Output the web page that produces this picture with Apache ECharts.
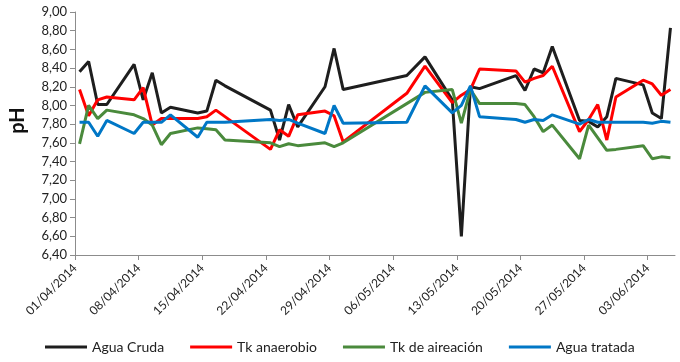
<!DOCTYPE html>
<html>
<head>
<meta charset="utf-8">
<script src="https://cdn.jsdelivr.net/npm/echarts@6/dist/echarts.min.js"></script>
<style>
    html, body { margin: 0; padding: 0; background: #fff; }
    #chart { width: 680px; height: 362px; }
</style>
</head>
<body>
<div id="chart"></div>
<script>
    // fechas de muestreo (dd/mm/aaaa)
    var fechas = ['01/04/2014','02/04/2014','03/04/2014','04/04/2014','07/04/2014','08/04/2014','09/04/2014','10/04/2014','11/04/2014',
        '14/04/2014','15/04/2014','16/04/2014','17/04/2014','22/04/2014','23/04/2014','24/04/2014','25/04/2014',
        '28/04/2014','29/04/2014','30/04/2014','07/05/2014','09/05/2014','12/05/2014','13/05/2014','14/05/2014','15/05/2014',
        '19/05/2014','20/05/2014','21/05/2014','22/05/2014','23/05/2014','26/05/2014','27/05/2014','28/05/2014','29/05/2014','30/05/2014',
        '02/06/2014','03/06/2014','04/06/2014','05/06/2014'];

    var aguaCruda = [8.36,8.47,8.01,8.01,8.44,8.06,8.35,7.92,7.98,
        7.92,7.94,8.27,8.21,7.95,7.63,8.01,7.77,
        8.20,8.61,8.17,8.32,8.52,8.06,6.60,8.20,8.18,
        8.32,8.16,8.39,8.35,8.63,7.84,7.83,7.77,7.88,8.29,
        8.22,7.92,7.86,8.83];
    var tkAnaerobio = [8.17,7.89,8.06,8.09,8.06,8.19,7.79,7.86,7.86,
        7.86,7.88,7.95,null,7.53,7.74,7.67,7.90,
        7.94,7.89,7.61,8.13,8.42,8.03,8.11,8.17,8.39,
        8.37,8.25,8.29,8.32,8.42,7.72,7.85,8.01,7.63,8.09,
        8.27,8.23,8.11,8.17];
    var tkAireacion = [7.59,8.00,7.86,7.95,7.90,7.86,7.79,7.58,7.70,
        7.76,7.75,7.74,7.63,7.60,7.56,7.59,7.57,
        7.60,7.56,7.60,null,8.14,8.17,7.81,8.17,8.02,
        8.02,8.01,7.88,7.72,7.79,7.43,7.79,null,7.52,7.53,
        7.57,7.43,7.45,7.44];
    var aguaTratada = [7.82,7.82,7.67,7.84,7.70,7.82,7.82,7.82,7.90,
        7.66,7.82,7.82,7.82,7.85,7.84,7.85,7.81,
        7.70,8.00,7.81,7.82,8.21,7.92,8.00,8.21,7.88,
        7.85,7.82,7.85,7.84,7.90,7.80,7.85,7.82,7.82,7.82,
        7.82,7.81,7.83,7.82];

    var nombres = ['Agua Cruda','Tk anaerobio','Tk de aireación','Agua tratada'];
    var colores = ['#1e1e1e','#ff0000','#4a8a3c','#0077c6'];

    var inicio = Date.UTC(2014, 3, 1);
    var DIA = 86400000;

    function aDia(f) {
        var p = f.split('/');
        return (Date.UTC(+p[2], +p[1] - 1, +p[0]) - inicio) / DIA;
    }
    function aFecha(d) {
        var t = new Date(inicio + d * DIA);
        var dd = ('0' + t.getUTCDate()).slice(-2);
        var mm = ('0' + (t.getUTCMonth() + 1)).slice(-2);
        return dd + '/' + mm + '/' + t.getUTCFullYear();
    }

    // eje de fechas: marcas cada 7 dias, puntos en mitad del dia (como Excel)
    var marcas = [];
    for (var i = 0; i <= 63; i += 7) marcas.push(i);

    function serie(nombre, valores, color) {
        return {
            name: nombre,
            type: 'line',
            symbol: 'none',
            connectNulls: true,
            lineStyle: { width: 3, color: color },
            itemStyle: { color: color },
            data: fechas.map(function (f, k) {
                return [aDia(f) + 0.5, valores[k]];
            })
        };
    }

    var chart = echarts.init(document.getElementById('chart'));
    chart.setOption({
        animation: false,
        textStyle: { fontFamily: 'Lato' },
        grid: { left: 65, right: 5, top: 12, bottom: 107 },
        legend: {
            bottom: 3,
            left: 40,
            icon: 'rect',
            itemWidth: 42,
            itemHeight: 3,
            itemGap: 26,
            textStyle: { fontSize: 14, color: '#222', fontFamily: 'Lato' },
            data: nombres
        },
        xAxis: {
            type: 'value',
            min: 0,
            max: 66,
            interval: 7,
            splitLine: { show: false },
            axisLine: { lineStyle: { color: '#8c8c8c' } },
            axisTick: { length: 5, customValues: marcas, lineStyle: { color: '#8c8c8c' } },
            axisLabel: {
                rotate: 45,
                fontSize: 12,
                color: '#222',
                margin: 11,
                customValues: marcas,
                formatter: function (v) { return aFecha(v); }
            }
        },
        yAxis: {
            type: 'value',
            min: 6.4,
            max: 9.0,
            interval: 0.2,
            name: 'pH',
            nameLocation: 'middle',
            nameGap: 47,
            nameTextStyle: { fontSize: 20, fontWeight: 'bold', color: '#111', padding: [0, 0, 0, 26] },
            splitLine: { show: false },
            axisLine: { show: true, lineStyle: { color: '#8c8c8c' } },
            axisTick: { show: true, length: 5, lineStyle: { color: '#8c8c8c' } },
            axisLabel: {
                fontSize: 13,
                color: '#222',
                margin: 8,
                formatter: function (v) { return v.toFixed(2).replace('.', ','); }
            }
        },
        series: [
            serie(nombres[0], aguaCruda, colores[0]),
            serie(nombres[1], tkAnaerobio, colores[1]),
            serie(nombres[2], tkAireacion, colores[2]),
            serie(nombres[3], aguaTratada, colores[3])
        ]
    });
</script>
</body>
</html>
